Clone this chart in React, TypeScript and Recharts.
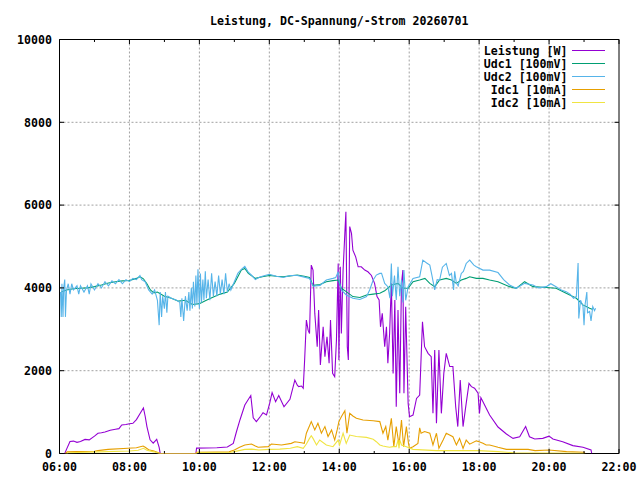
import React from 'react';
import { LineChart, Line, XAxis, YAxis, CartesianGrid, ReferenceArea, Legend } from 'recharts';

const chartTitle = 'Leistung, DC-Spannung/-Strom 20260701';
const hourTicks = [6, 7, 8, 9, 10, 11, 12, 13, 14, 15, 16, 17, 18, 19, 20, 21, 22];
const gridHours = [8, 10, 12, 14, 16, 18, 20];
const valueTicks = [0, 2000, 4000, 6000, 8000, 10000];
const gridValues = [2000, 4000, 6000, 8000];
const seriesNames = ['Leistung [W]', 'Udc1 [100mV]', 'Udc2 [100mV]', 'Idc1 [10mA]', 'Idc2 [10mA]'];
const seriesColors = ['#9400d3', '#009e73', '#56b4e9', '#e69f00', '#f0e442'];

// [hour, value]
const leistung: [number, number][] = [
  [6.15, 0], [6.2, 100], [6.3, 290], [6.4, 300], [6.5, 270], [6.6, 290], [6.73, 340], [6.85, 330], [7.0, 420], [7.1, 490],
  [7.2, 500], [7.3, 520], [7.45, 560], [7.6, 585], [7.7, 600], [7.78, 690], [7.9, 700], [8.0, 720], [8.1, 730], [8.2, 820],
  [8.3, 960], [8.4, 1100], [8.45, 900], [8.5, 650], [8.59, 330], [8.68, 250], [8.78, 340], [8.85, 150], [8.88, 0], [9.9, 0],
  [9.92, 130], [10.5, 140], [10.8, 155], [10.97, 245], [11.06, 525], [11.16, 810], [11.3, 1170], [11.47, 1400], [11.54, 860], [11.63, 770],
  [11.75, 900], [11.82, 985], [11.92, 930], [12.01, 1210], [12.08, 1470], [12.18, 1250], [12.27, 1400], [12.42, 1130], [12.59, 1310], [12.73, 1775],
  [12.8, 1650], [12.84, 1615], [12.92, 1630], [12.97, 1575], [13.01, 2260], [13.06, 3225], [13.11, 2980], [13.15, 2900], [13.2, 4550], [13.25, 4430],
  [13.3, 3390], [13.37, 2580], [13.41, 3465], [13.46, 2140], [13.54, 3060], [13.59, 2340], [13.65, 2820], [13.71, 2180], [13.75, 3225], [13.81, 1935],
  [13.87, 1855], [13.92, 2740], [13.97, 4590], [13.99, 2260], [14.03, 4510], [14.06, 2900], [14.11, 4430], [14.16, 5320], [14.19, 5840], [14.23, 2580],
  [14.26, 2260], [14.3, 5480], [14.35, 5320], [14.39, 4910], [14.47, 4750], [14.54, 4510], [14.63, 4510], [14.73, 4430], [14.82, 4390], [14.92, 4300],
  [15.01, 4110], [15.08, 3790], [15.14, 3710], [15.18, 3060], [15.23, 3385], [15.3, 2580], [15.35, 3060], [15.39, 2180], [15.44, 2900], [15.49, 4110],
  [15.54, 1935], [15.59, 3710], [15.63, 1130], [15.68, 3465], [15.73, 1455], [15.78, 4110], [15.82, 4430], [15.85, 1455], [15.9, 3545], [15.97, 1210],
  [16.01, 890], [16.11, 930], [16.21, 1330], [16.3, 1410], [16.38, 3180], [16.44, 2580], [16.54, 2420], [16.63, 2340], [16.68, 970], [16.73, 2500],
  [16.78, 730], [16.85, 2500], [16.92, 970], [16.99, 1935], [17.06, 2420], [17.16, 2100], [17.25, 2100], [17.33, 1130], [17.39, 650], [17.46, 1775],
  [17.54, 650], [17.63, 1210], [17.71, 1695], [17.78, 1615], [17.87, 1575], [17.97, 1455], [18.01, 970], [18.05, 1350], [18.11, 1250], [18.3, 930],
  [18.54, 640], [18.78, 470], [18.97, 365], [19.16, 405], [19.33, 650], [19.44, 405], [19.59, 350], [19.82, 365], [20.0, 420], [20.11, 350],
  [20.39, 285], [20.68, 190], [20.97, 150], [21.2, 85], [21.22, 0],
];

const udc1: [number, number][] = [
  [6.05, 3900], [6.2, 3950], [6.4, 3980], [6.6, 3990], [6.8, 4000], [7.0, 4030], [7.2, 4070], [7.4, 4120], [7.6, 4150], [7.8, 4170],
  [8.0, 4180], [8.2, 4230], [8.3, 4270], [8.4, 4220], [8.5, 4100], [8.6, 3950], [8.7, 3880], [8.8, 3900], [9.0, 3800], [9.2, 3750],
  [9.4, 3680], [9.6, 3700], [9.8, 3600], [10.0, 3620], [10.2, 3700], [10.4, 3780], [10.6, 3850], [10.8, 3900], [11.0, 4110], [11.2, 4430],
  [11.3, 4470], [11.4, 4350], [11.6, 4230], [11.8, 4270], [12.0, 4300], [12.2, 4280], [12.4, 4270], [12.6, 4290], [12.8, 4310], [13.0, 4280],
  [13.15, 4250], [13.25, 4060], [13.45, 4080], [13.63, 4150], [13.82, 4175], [13.97, 4190], [14.06, 3990], [14.2, 3910], [14.39, 3790], [14.59, 3770],
  [14.78, 3830], [14.97, 3850], [15.16, 3870], [15.3, 3930], [15.49, 4070], [15.68, 4110], [15.82, 3990], [15.97, 3990], [16.11, 4150], [16.3, 4190],
  [16.45, 4230], [16.59, 4110], [16.73, 4030], [16.87, 4190], [17.06, 4230], [17.21, 4190], [17.35, 4110], [17.49, 4190], [17.63, 4230], [17.73, 4270],
  [17.92, 4230], [18.11, 4230], [18.3, 4190], [18.54, 4150], [18.87, 4030], [19.06, 3990], [19.3, 4150], [19.54, 4030], [19.92, 4010], [20.2, 3990],
  [20.49, 3870], [20.78, 3750], [20.97, 3590], [21.16, 3510], [21.25, 3480],
];

const udc2: [number, number][] = [
  [6.03, 3900], [6.05, 3300], [6.07, 4100], [6.1, 3300], [6.12, 4000], [6.15, 4200], [6.17, 3300], [6.2, 3950], [6.25, 4100], [6.3, 3850],
  [6.35, 4100], [6.4, 3950], [6.5, 4050], [6.55, 3850], [6.6, 4050], [6.7, 3900], [6.8, 4050], [6.85, 3850], [6.9, 4100], [7.0, 3950],
  [7.1, 4100], [7.2, 4000], [7.3, 4150], [7.4, 4050], [7.5, 4170], [7.6, 4100], [7.7, 4200], [7.8, 4100], [7.9, 4200], [8.0, 4150],
  [8.1, 4230], [8.2, 4200], [8.3, 4300], [8.35, 4200], [8.45, 4150], [8.55, 3950], [8.65, 3850], [8.72, 3950], [8.8, 3700], [8.85, 3100],
  [8.88, 3900], [8.92, 3300], [8.95, 3800], [9.0, 3500], [9.03, 3900], [9.07, 3400], [9.1, 3800], [9.2, 3750], [9.35, 3700], [9.44, 3650],
  [9.47, 3300], [9.5, 3750], [9.55, 3200], [9.6, 3800], [9.65, 3450], [9.7, 3900], [9.73, 3450], [9.77, 4000], [9.8, 3500], [9.83, 4150],
  [9.87, 3550], [9.9, 4300], [9.93, 3600], [9.96, 4450], [10.0, 3500], [10.03, 4350], [10.06, 3650], [10.1, 4200], [10.13, 3700], [10.17, 4400],
  [10.2, 3750], [10.25, 4200], [10.3, 3700], [10.35, 4350], [10.4, 3800], [10.45, 4150], [10.5, 3800], [10.55, 4300], [10.6, 3850], [10.65, 4200],
  [10.7, 3850], [10.75, 4350], [10.8, 3900], [10.85, 4100], [10.9, 3950], [11.0, 4150], [11.1, 4350], [11.2, 4450], [11.3, 4520], [11.4, 4380],
  [11.5, 4300], [11.6, 4200], [11.7, 4250], [11.8, 4280], [12.0, 4330], [12.2, 4280], [12.4, 4250], [12.6, 4300], [12.8, 4300], [13.0, 4260],
  [13.15, 4230], [13.25, 4040], [13.45, 4060], [13.63, 4190], [13.82, 4230], [13.9, 4250], [13.97, 4390], [14.0, 4150], [14.06, 3950], [14.2, 3830],
  [14.39, 3750], [14.59, 3720], [14.78, 3790], [14.87, 3950], [14.97, 4190], [15.06, 4310], [15.16, 4350], [15.21, 4350], [15.3, 4110], [15.39, 4030],
  [15.45, 3750], [15.49, 4590], [15.52, 3800], [15.58, 4300], [15.63, 3710], [15.68, 4510], [15.73, 3800], [15.78, 4200], [15.82, 3650], [15.85, 4430],
  [15.9, 3700], [15.97, 4030], [16.11, 4230], [16.3, 4270], [16.39, 4670], [16.5, 4600], [16.59, 4550], [16.65, 4300], [16.73, 3950], [16.8, 4200],
  [16.87, 4190], [16.95, 4500], [17.06, 4590], [17.15, 4300], [17.21, 4350], [17.27, 3950], [17.3, 4400], [17.35, 4110], [17.4, 4050], [17.49, 4350],
  [17.55, 4400], [17.63, 4590], [17.73, 4670], [17.85, 4550], [17.92, 4510], [18.11, 4430], [18.3, 4430], [18.54, 4370], [18.7, 4200], [18.87, 4070],
  [19.06, 3990], [19.3, 4110], [19.54, 4070], [19.7, 4000], [19.92, 4030], [20.05, 4100], [20.2, 4030], [20.35, 3950], [20.49, 3910], [20.6, 3850],
  [20.7, 3750], [20.78, 3790], [20.83, 4600], [20.85, 3260], [20.9, 3700], [20.97, 3560], [21.0, 3100], [21.03, 3600], [21.08, 3900], [21.1, 3400],
  [21.16, 3430], [21.2, 3200], [21.25, 3550], [21.3, 3450], [21.33, 3510],
];

const idc1: [number, number][] = [
  [6.17, 0], [6.22, 40], [6.5, 45], [7.0, 55], [7.1, 70], [7.39, 100], [7.96, 125], [8.2, 140], [8.39, 180], [8.45, 150],
  [8.55, 90], [8.7, 60], [8.85, 10], [8.88, 0], [9.9, 0], [9.92, 30], [10.5, 35], [10.85, 40], [11.0, 85], [11.15, 150],
  [11.3, 205], [11.49, 230], [11.6, 180], [11.68, 150], [11.97, 165], [12.06, 230], [12.35, 205], [12.63, 245], [12.73, 285], [12.92, 260],
  [13.0, 245], [13.06, 490], [13.2, 770], [13.3, 570], [13.39, 730], [13.49, 490], [13.59, 650], [13.68, 410], [13.78, 570], [13.87, 325],
  [13.94, 570], [13.99, 770], [14.06, 890], [14.16, 1035], [14.22, 490], [14.3, 970], [14.39, 905], [14.49, 850], [14.68, 810], [14.97, 790],
  [15.16, 770], [15.25, 490], [15.33, 650], [15.39, 325], [15.49, 850], [15.56, 165], [15.63, 650], [15.71, 205], [15.78, 810], [15.84, 165],
  [15.92, 650], [15.98, 245], [16.01, 125], [16.11, 165], [16.25, 245], [16.3, 620], [16.34, 490], [16.44, 530], [16.59, 490], [16.68, 205],
  [16.78, 490], [16.85, 125], [16.97, 325], [17.06, 490], [17.25, 405], [17.35, 205], [17.44, 365], [17.54, 125], [17.63, 325], [17.73, 225],
  [17.92, 305], [18.0, 285], [18.11, 245], [18.2, 205], [18.3, 205], [18.54, 150], [18.78, 100], [19.16, 100], [19.4, 100], [19.6, 70],
  [20.0, 85], [20.5, 45], [21.0, 30], [21.03, 0],
];

const idc2: [number, number][] = [
  [6.2, 0], [6.25, 20], [7.1, 40], [8.0, 60], [8.25, 80], [8.4, 125], [8.5, 80], [8.7, 40], [8.85, 0], [9.92, 0],
  [9.95, 25], [10.9, 30], [11.0, 45], [11.3, 100], [11.5, 105], [11.7, 85], [12.0, 100], [12.3, 105], [12.6, 125], [12.8, 165],
  [12.97, 125], [13.06, 230], [13.15, 365], [13.2, 430], [13.25, 365], [13.35, 205], [13.44, 325], [13.63, 205], [13.82, 165], [13.97, 325],
  [14.01, 205], [14.11, 490], [14.2, 245], [14.3, 445], [14.49, 410], [14.78, 390], [14.97, 345], [15.06, 285], [15.16, 205], [15.25, 180],
  [15.35, 165], [15.44, 150], [15.54, 165], [15.63, 165], [15.68, 325], [15.71, 125], [15.73, 325], [15.78, 205], [15.92, 165], [16.11, 100],
  [16.78, 70], [17.73, 70], [18.0, 70], [18.54, 45], [19.0, 15], [20.0, 10], [21.0, 5],
];

const seriesData = [leistung, udc1, udc2, idc1, idc2];

const toRows = (pairs: [number, number][]) => pairs.map(([t, v]) => ({ t, v }));

const FONT = '"DejaVu Sans Mono", "Liberation Mono", monospace';
const FONT_SIZE = 11.6;

const PLOT = { left: 59.5, right: 619, top: 39.5, bottom: 453.5 };

const fmtHour = (h: number) => `${String(h).padStart(2, '0')}:00`;

const renderXTick = (props: any) => {
  const { x, payload } = props;
  const h = payload.value as number;
  const major = h % 2 === 0;
  const len = major ? 4.5 : 2.5;
  return (
    <g key={`xt-${h}`}>
      <line x1={x} x2={x} y1={PLOT.bottom} y2={PLOT.bottom - len} stroke="#000" strokeWidth={1} />
      <line x1={x} x2={x} y1={PLOT.top} y2={PLOT.top + len} stroke="#000" strokeWidth={1} />
      {major && (
        <text x={x} y={PLOT.bottom + 17.5} textAnchor="middle" fontFamily={FONT} fontSize={FONT_SIZE} fontWeight="bold" fill="#000">
          {fmtHour(h)}
        </text>
      )}
    </g>
  );
};

const renderYTick = (props: any) => {
  const { y, payload } = props;
  const v = payload.value as number;
  return (
    <g key={`yt-${v}`}>
      <line x1={PLOT.left} x2={PLOT.left + 4.5} y1={y} y2={y} stroke="#000" strokeWidth={1} />
      <line x1={PLOT.right - 4.5} x2={PLOT.right} y1={y} y2={y} stroke="#000" strokeWidth={1} />
      <text x={PLOT.left - 7.5} y={y} dy={4.2} textAnchor="end" fontFamily={FONT} fontSize={FONT_SIZE} fontWeight="bold" fill="#000">
        {String(v)}
      </text>
    </g>
  );
};

const LegendBox = (props: any) => {
  const payload = [...(props.payload || [])].sort(
    (a: any, b: any) => seriesNames.indexOf(a.value) - seriesNames.indexOf(b.value)
  );
  return (
    <svg width={640} height={120} style={{ position: 'absolute', left: 0, top: 0, overflow: 'visible' }}>
      {payload.map((p: any, i: number) => {
        const yy = 50.5 + 13 * i;
        return (
          <g key={p.value}>
            <text x={567.5} y={yy} dy={4.2} textAnchor="end" fontFamily={FONT} fontSize={FONT_SIZE} fontWeight="bold" fill="#000">
              {p.value}
            </text>
            <line x1={572} x2={605} y1={yy} y2={yy} stroke={p.color} strokeWidth={1} />
          </g>
        );
      })}
    </svg>
  );
};

export default function App() {
  return (
    <div style={{ position: 'absolute', left: 0, top: 0, width: 640, height: 480, background: '#fff' }}>
      <div
        style={{
          position: 'absolute',
          left: 0,
          top: 13,
          width: PLOT.left + PLOT.right,
          textAlign: 'center',
          fontFamily: FONT,
          fontSize: FONT_SIZE,
          fontWeight: 'bold',
          lineHeight: '16px',
          color: '#000',
          whiteSpace: 'pre',
          zIndex: 2,
        }}
      >
        {chartTitle}
      </div>
      <LineChart
        width={640}
        height={480}
        margin={{ top: PLOT.top, right: 640 - PLOT.right, bottom: 0, left: 0 }}
      >
        <CartesianGrid
          stroke="#a0a0a0"
          strokeDasharray="2 2"
          horizontalValues={gridValues}
          verticalValues={gridHours}
        />
        <XAxis
          dataKey="t"
          type="number"
          domain={[6, 22]}
          ticks={hourTicks}
          allowDataOverflow
          height={480 - PLOT.bottom}
          tickSize={0}
          tickMargin={0}
          axisLine={false}
          tickLine={false}
          tick={renderXTick}
          interval={0}
        />
        <YAxis
          type="number"
          domain={[0, 10000]}
          ticks={valueTicks}
          allowDataOverflow
          width={PLOT.left}
          tickSize={0}
          tickMargin={0}
          axisLine={false}
          tickLine={false}
          tick={renderYTick}
          interval={0}
        />
        {seriesData.map((s, i) => (
          <Line
            key={seriesNames[i]}
            data={toRows(s)}
            dataKey="v"
            name={seriesNames[i]}
            stroke={seriesColors[i]}
            strokeWidth={1.1}
            dot={false}
            activeDot={false}
            type="linear"
            isAnimationActive={false}
          />
        ))}
        <ReferenceArea x1={6} x2={22} y1={0} y2={10000} fill="none" fillOpacity={0} stroke="#000" strokeWidth={1} ifOverflow="visible" />
        <Legend
          layout="horizontal"
          verticalAlign="middle"
          align="center"
          wrapperStyle={{ position: 'absolute', left: 0, top: 0, width: 640, height: 0 }}
          content={<LegendBox />}
        />
      </LineChart>
    </div>
  );
}
